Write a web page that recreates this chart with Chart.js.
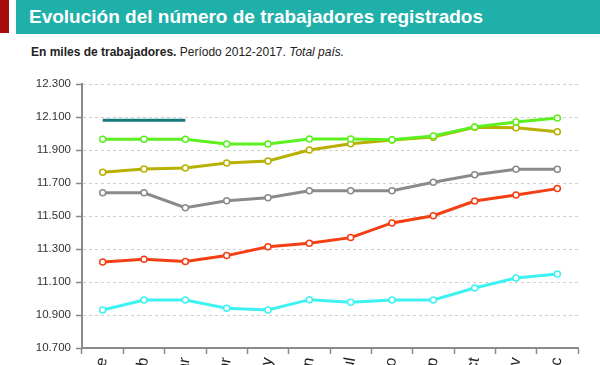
<!DOCTYPE html>
<html>
<head>
<meta charset="utf-8">
<script src="https://cdn.jsdelivr.net/npm/chart.js@4/dist/chart.umd.min.js"></script>
<style>
  html, body { margin:0; padding:0; width:600px; height:365px; overflow:hidden; background:#fff; font-family:"Liberation Sans", Arial, sans-serif; }
  #redbar { position:absolute; left:0; top:0; width:9px; height:33px; background:#a50d0d; }
  #band { position:absolute; left:16px; top:0; width:584px; height:34px; background:#1fb0aa; }
  #title { position:absolute; left:29px; top:6px; font-size:19px; font-weight:bold; color:#fff; white-space:nowrap; line-height:22px; }
  #subtitle { position:absolute; left:31px; top:45px; font-size:12px; color:#222; white-space:nowrap; line-height:14px; }
  #wrap { position:absolute; left:0; top:60px; width:600px; height:340px; }
</style>
</head>
<body>
<div id="redbar"></div>
<div id="band"></div>
<div id="title">Evolución del número de trabajadores registrados</div>
<div id="subtitle"><b>En miles de trabajadores.</b> Período 2012-2017. <i>Total país.</i></div>
<div id="wrap"><canvas id="c" width="600" height="340"></canvas></div>
<script>
const months = ["Ene","Feb","Mar","Abr","May","Jun","Jul","Ago","Sep","Oct","Nov","Dic"];
const y2012 = [10930,10991,10991,10941,10930,10993,10977,10991,10991,11064,11124,11148];
const y2013 = [11221,11238,11225,11260,11314,11335,11369,11458,11502,11591,11627,11666];
const y2014 = [11641,11641,11550,11593,11611,11653,11653,11653,11704,11750,11783,11783];
const y2015 = [11765,11785,11791,11821,11833,11900,11938,11960,11978,12038,12035,12011];
const y2016 = [11965,11965,11965,11936,11936,11967,11967,11962,11985,12040,12070,12094];
const y2017 = [12080,12080,12080];
const yTicks = [10700,10900,11100,11300,11500,11700,11900,12100,12300];

function line(label, data, color, pts) {
  return {
    label, data,
    borderColor: color,
    backgroundColor: '#ffffff',
    borderWidth: 3,
    pointRadius: pts ? 3 : 0,
    pointHoverRadius: pts ? 3 : 0,
    pointBorderWidth: 1.5,
    pointBorderColor: color,
    pointBackgroundColor: '#ffffff',
    tension: 0,
    spanGaps: false
  };
}

new Chart(document.getElementById('c'), {
  type: 'line',
  data: {
    labels: months,
    datasets: [
      line('2017', y2017, '#167b7b', false),
      line('2016', y2016, '#5cf11e', true),
      line('2015', y2015, '#b8b000', true),
      line('2014', y2014, '#8a8a8a', true),
      line('2013', y2013, '#f43f14', true),
      line('2012', y2012, '#3ff2f2', true)
    ]
  },
  options: {
    responsive: false,
    animation: false,
    events: [],
    layout: { padding: { top: 24, right: 22, left: 0, bottom: 0 } },
    plugins: { legend: { display: false }, tooltip: { enabled: false } },
    scales: {
      x: {
        type: 'category',
        offset: true,
        grid: { display: true, offset: true, drawOnChartArea: false, drawTicks: true, tickLength: 6, tickColor: '#8a8a8a', tickWidth: 1.5 },
        border: { display: true, color: '#8a8a8a', width: 2 },
        ticks: { minRotation: 80, maxRotation: 80, color: '#222', padding: 2, autoSkip: false,
                 font: { family: '"Liberation Sans", Arial, sans-serif', size: 16 } },
        afterFit: s => { s.height = 52; }
      },
      y: {
        min: 10700, max: 12300,
        afterBuildTicks: s => { s.ticks = yTicks.map(v => ({ value: v })); },
        grid: { color: '#d0d0d0', lineWidth: 1, drawTicks: true, tickLength: 6, tickColor: '#8a8a8a', tickWidth: 1.5, tickBorderDash: [] },
        border: { display: true, color: '#8a8a8a', width: 2, dash: [3, 3] },
        ticks: {
          color: '#333', padding: 5,
          font: { family: '"Liberation Sans", Arial, sans-serif', size: 11.5 },
          callback: v => String(v).replace(/\B(?=(\d{3})+(?!\d))/g, '.')
        },
        afterFit: s => { s.width = 82; }
      }
    }
  }
});
</script>
</body>
</html>
